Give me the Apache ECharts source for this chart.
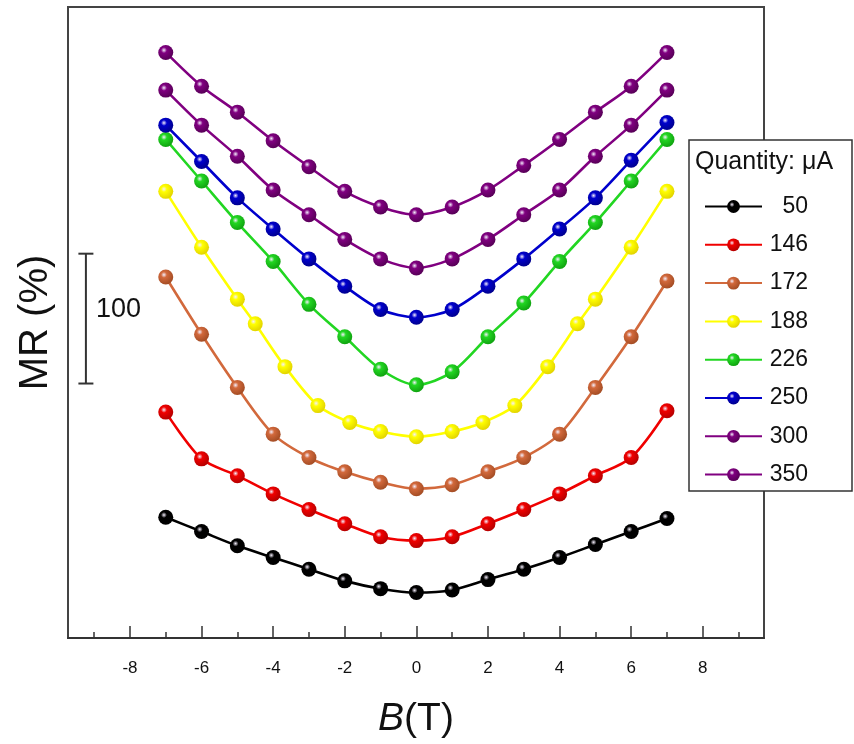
<!DOCTYPE html>
<html>
<head>
<meta charset="utf-8">
<script src="https://cdn.jsdelivr.net/npm/echarts@6/dist/echarts.min.js"></script>
<style>
  html, body { margin: 0; padding: 0; background: #fff; }
  #chart { width: 854px; height: 744px; }
</style>
</head>
<body>
<div id="chart"></div>
<script>
// Magnetic field sweep (T)
const fieldB = [-7, -6, -5, -4, -3, -2, -1, 0, 1, 2, 3, 4, 5, 6, 7];
const fieldB188 = [-7, -6, -5, -4.5, -3.67, -2.75, -1.86, -1, 0, 1, 1.86, 2.75, 3.67, 4.5, 5, 6, 7];

// Current labels (μA)
const currents = ['50', '146', '172', '188', '226', '250', '300', '350'];

// MR curves (%), vertically offset for clarity
const mr50  = [93, 82, 71, 62, 53, 44, 38, 35, 37, 45, 53, 62, 72, 82, 92];
const mr146 = [174, 138, 125, 111, 99, 88, 78, 75, 78, 88, 99, 111, 125, 139, 175];
const mr172 = [278, 234, 193, 157, 139, 128, 120, 115, 118, 128, 139, 157, 193, 232, 275];
const mr188 = [344, 301, 261, 242, 209, 179, 166, 159, 155, 159, 166, 179, 209, 242, 261, 301, 344];
const mr226 = [384, 352, 320, 290, 257, 232, 207, 195, 205, 232, 258, 290, 320, 352, 384];
const mr250 = [395, 367, 339, 315, 292, 271, 253, 247, 253, 271, 292, 315, 339, 368, 397];
const mr300 = [422, 395, 371, 345, 326, 307, 292, 285, 292, 307, 326, 345, 371, 395, 422];
const mr350 = [451, 425, 405, 383, 363, 344, 332, 326, 332, 345, 364, 384, 405, 425, 451];

// x-axis ticks
const majorTicks = [-8, -6, -4, -2, 0, 2, 4, 6, 8];
const minorTicks = [-9, -7, -5, -3, -1, 1, 3, 5, 7, 9];

// Scale bar (%)
const scaleBarX = -9.23;
const scaleBarBase = 196;
const scaleBarSpan = 100;

const colors = ['#000000', '#f00000', '#d2693c', '#ffff00', '#22d622', '#0000cc', '#800080', '#800080'];
const edgeColors = ['#000000', '#b00000', '#a04a22', '#e0d000', '#0e9e0e', '#00008a', '#540054', '#540054'];
const yValues = [mr50, mr146, mr172, mr188, mr226, mr250, mr300, mr350];
const xValues = [fieldB, fieldB, fieldB, fieldB188, fieldB, fieldB, fieldB, fieldB];

const FONT = 'Liberation Sans, Arial, sans-serif';

function ball(i) {
  return new echarts.graphic.RadialGradient(0.38, 0.35, 0.7, [
    { offset: 0, color: '#f4eefc' },
    { offset: 0.28, color: colors[i] },
    { offset: 1, color: edgeColors[i] }
  ]);
}

const curveSeries = currents.map((name, i) => ({
  name: name,
  type: 'line',
  smooth: 0.3,
  symbol: 'circle',
  symbolSize: 15,
  data: xValues[i].map((x, k) => [x, yValues[i][k]]),
  lineStyle: { color: colors[i], width: 2.6 },
  itemStyle: { color: ball(i), borderWidth: 0 },
  z: 3 + i
}));

const scaleBarSeries = {
  type: 'custom',
  silent: true,
  data: [[scaleBarX, scaleBarBase, scaleBarBase + scaleBarSpan]],
  renderItem: function (params, api) {
    const bot = api.coord([api.value(0), api.value(1)]);
    const top = api.coord([api.value(0), api.value(2)]);
    const half = 7.5;
    const st = { stroke: '#333', lineWidth: 2 };
    return {
      type: 'group',
      children: [
        { type: 'line', shape: { x1: top[0], y1: top[1], x2: bot[0], y2: bot[1] }, style: st },
        { type: 'line', shape: { x1: top[0] - half, y1: top[1], x2: top[0] + half, y2: top[1] }, style: st },
        { type: 'line', shape: { x1: bot[0] - half, y1: bot[1], x2: bot[0] + half, y2: bot[1] }, style: st },
        { type: 'text', x: top[0] + 10, y: (top[1] + bot[1]) / 2 - 9,
          style: { text: String(scaleBarSpan), fontSize: 27, fontFamily: FONT,
                   fill: '#111', align: 'left', verticalAlign: 'middle' } }
      ]
    };
  }
};

const chart = echarts.init(document.getElementById('chart'), null, { renderer: 'canvas' });
chart.setOption({
  animation: false,
  backgroundColor: '#ffffff',
  textStyle: { fontFamily: FONT },
  grid: { left: 68, right: 90, top: 7, bottom: 105, show: true, borderColor: '#444', borderWidth: 2 },
  xAxis: [{
    type: 'value', min: -9.73, max: 9.71,
    axisLine: { lineStyle: { color: '#333', width: 2 } },
    axisTick: { inside: true, length: 12, customValues: majorTicks, lineStyle: { color: '#333', width: 1.5 } },
    axisLabel: { customValues: majorTicks, margin: 22, fontSize: 17, color: '#111' },
    splitLine: { show: false },
    name: '{i|B}{n|(T)}',
    nameLocation: 'middle',
    nameGap: 62,
    nameTextStyle: {
      rich: {
        i: { fontSize: 39, fontStyle: 'italic', color: '#111', fontFamily: FONT },
        n: { fontSize: 39, color: '#111', fontFamily: FONT }
      }
    }
  }, {
    type: 'value', min: -9.73, max: 9.71, position: 'bottom',
    axisLine: { show: false },
    axisTick: { inside: true, length: 6, customValues: minorTicks, lineStyle: { color: '#333', width: 1.5 } },
    axisLabel: { show: false },
    splitLine: { show: false }
  }],
  yAxis: {
    type: 'value', min: 0, max: 486,
    axisLine: { show: false },
    axisTick: { show: false },
    axisLabel: { show: false },
    splitLine: { show: false },
    name: 'MR (%)',
    nameLocation: 'middle',
    nameRotate: 90,
    nameGap: 12,
    nameTextStyle: { fontSize: 40, color: '#111' }
  },
  legend: {
    data: currents,
    orient: 'vertical',
    left: 689, top: 140,
    padding: [55, 44, 5, 15],
    itemWidth: 57, itemHeight: 16, itemGap: 15.3,
    backgroundColor: '#ffffff',
    borderColor: '#333', borderWidth: 1.5,
    selectedMode: false,
    formatter: function (name) { return '{v|' + name + '}'; },
    textStyle: {
      rich: { v: { width: 41, align: 'right', fontSize: 23, lineHeight: 22, color: '#111' } }
    }
  },
  graphic: [{
    type: 'text', left: 695, top: 150, z: 100,
    style: { text: 'Quantity: μA', fontSize: 25, fill: '#111', fontFamily: FONT }
  }],
  series: curveSeries.concat([scaleBarSeries])
});
</script>
</body>
</html>
